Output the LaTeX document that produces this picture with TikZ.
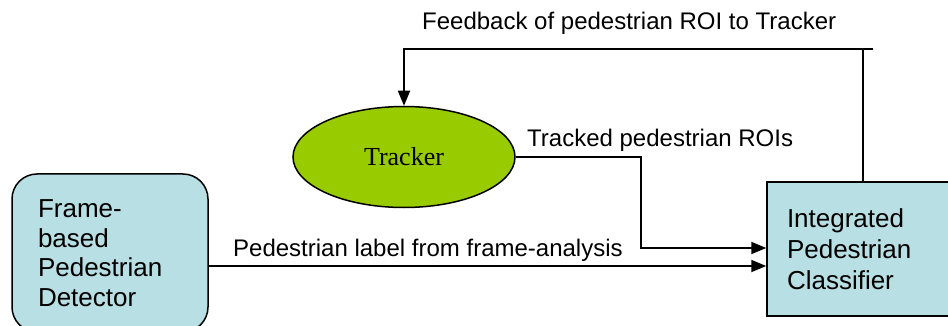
\documentclass[tikz,border=0pt]{standalone}
\usepackage{fontspec}
\setmainfont{Liberation Sans}
\newfontfamily\serifface{Liberation Serif}
\usetikzlibrary{shapes.geometric,arrows.meta,calc}
\definecolor{boxfill}{RGB}{184,223,227}
\definecolor{trkgreen}{RGB}{153,204,0}
\begin{document}
\begin{tikzpicture}[x=1pt,y=-1pt,
  boxstyle/.style={draw=black,line width=1.5pt,fill=boxfill,align=left,
    font=\fontsize{26}{29.5}\selectfont},
  lab/.style={inner sep=0pt,anchor=base west,font=\fontsize{24}{28}\selectfont},
  conn/.style={line width=1.8pt,-{Triangle[length=15pt,width=12pt]}},
  plain/.style={line width=1.8pt}]
\useasboundingbox (0,0) rectangle (948,326);
\node[boxstyle,rounded corners=25pt,minimum width=196pt,minimum height=158pt,
  text width=144pt,inner xsep=26pt,inner ysep=0pt] (det) at (110,253)
  {Frame-\\based\\Pedestrian\\Detector};
\node[boxstyle,minimum width=196pt,minimum height=134pt,
  text width=156pt,inner xsep=20pt,inner ysep=0pt,
  font=\fontsize{26}{31}\selectfont] (cls) at (865,249)
  {Integrated\\Pedestrian\\Classifier};
\node[ellipse,draw=black,line width=1.5pt,fill=trkgreen,minimum width=222pt,
  minimum height=101pt,inner sep=0pt,font=\serifface\fontsize{26}{30}\selectfont]
  (trk) at (404,157) {Tracker};
\coordinate (fbend) at (873,49);
\coordinate (fbj) at (863,49);
\coordinate (tk) at (641,157);
\draw[conn] (fbend) -| (trk.north);
\draw[plain] (fbj) -- (fbj |- cls.north);
\draw[conn] (trk.east) -- (tk) |- ($(cls.west)+(0,-1)$);
\draw[conn] ($(det.east)+(0,13)$) -- ($(cls.west)+(0,17)$);
\node[lab] (fblab) at (422,30) {Feedback of pedestrian ROI to Tracker};
\node[lab] (tklab) at (527,147) {Tracked pedestrian ROIs};
\node[lab] (pdlab) at (233,256) {Pedestrian label from frame-analysis};
\end{tikzpicture}
\end{document}
